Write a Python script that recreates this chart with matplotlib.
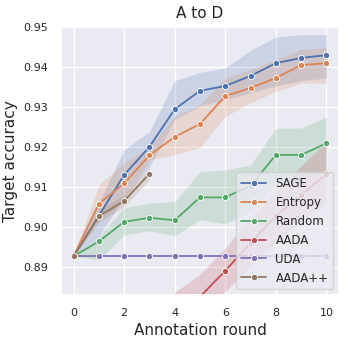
import numpy as np
import matplotlib
matplotlib.use("Agg")
import matplotlib.pyplot as plt
import seaborn as sns

sns.set_theme(style="darkgrid")

rounds = list(range(11))
methods = ["SAGE", "Entropy", "Random", "AADA", "UDA", "AADA++"]
colors = ["#4C72B0", "#DD8452", "#55A868", "#C44E52", "#8172B3", "#937860"]

# mean accuracy per round
sage_mean = [0.8927, 0.9028, 0.9130, 0.9200, 0.9294, 0.9340, 0.9352, 0.9377, 0.9409, 0.9422, 0.9429]
entropy_mean = [0.8927, 0.9058, 0.9109, 0.9179, 0.9225, 0.9257, 0.9327, 0.9347, 0.9372, 0.9404, 0.9409]
random_mean = [0.8927, 0.8964, 0.9013, 0.9023, 0.9017, 0.9074, 0.9074, 0.9103, 0.9180, 0.9180, 0.9209]
aada_mean = [0.790, 0.810, 0.830, 0.850, 0.872, 0.8826, 0.8891, 0.8960, 0.9028, 0.9080, 0.9132]
uda_mean = [0.8927] * 11
aadapp_mean = [0.8927, 0.9027, 0.9065, 0.9133]

# confidence band lower / upper
sage_lo = [0.8927, 0.8976, 0.9076, 0.9150, 0.9268, 0.9302, 0.9318, 0.9335, 0.9352, 0.9365, 0.9372]
sage_hi = [0.8927, 0.9060, 0.9193, 0.9238, 0.9365, 0.9386, 0.9397, 0.9441, 0.9474, 0.9480, 0.9480]
entropy_lo = [0.8927, 0.9018, 0.9060, 0.9168, 0.9180, 0.9199, 0.9276, 0.9310, 0.9338, 0.9359, 0.9359]
entropy_hi = [0.8927, 0.9105, 0.9160, 0.9200, 0.9276, 0.9305, 0.9372, 0.9393, 0.9418, 0.9443, 0.9448]
random_lo = [0.8927, 0.8918, 0.8980, 0.8991, 0.8978, 0.9018, 0.9008, 0.9040, 0.9110, 0.9120, 0.9140]
random_hi = [0.8927, 0.8976, 0.9048, 0.9060, 0.9063, 0.9138, 0.9142, 0.9155, 0.9247, 0.9247, 0.9274]
aada_lo = [0.770, 0.790, 0.810, 0.830, 0.860, 0.8760, 0.8836, 0.8900, 0.8960, 0.9010, 0.9060]
aada_hi = [0.810, 0.830, 0.850, 0.870, 0.8835, 0.8880, 0.8945, 0.9020, 0.9085, 0.9150, 0.9210]
aadapp_lo = [0.8927, 0.9012, 0.9050, 0.9118]
aadapp_hi = [0.8927, 0.9042, 0.9080, 0.9148]

means = [sage_mean, entropy_mean, random_mean, aada_mean, uda_mean, aadapp_mean]
lows = [sage_lo, entropy_lo, random_lo, aada_lo, None, aadapp_lo]
highs = [sage_hi, entropy_hi, random_hi, aada_hi, None, aadapp_hi]

fig = plt.figure(figsize=(3.46, 3.42), dpi=100)
ax = fig.add_axes([0.176, 0.137, 0.804, 0.785])

for name, c, m, lo, hi in zip(methods, colors, means, lows, highs):
    xs = rounds[:len(m)]
    if lo is not None:
        ax.fill_between(xs, lo, hi, color=c, alpha=0.2, linewidth=0)
    ax.plot(xs, m, color=c, marker="o", markersize=4.5, linewidth=1.3,
            markeredgecolor="white", markeredgewidth=0.6, label=name)

ax.set_xlim(-0.5, 10.5)
ax.set_ylim(0.883, 0.95)
ax.set_xticks([0, 2, 4, 6, 8, 10])
ax.set_yticks([0.89, 0.90, 0.91, 0.92, 0.93, 0.94, 0.95])
ax.tick_params(labelsize=8, pad=3)
ax.set_xlabel("Annotation round", fontsize=11)
ax.set_ylabel("Target accuracy", fontsize=11)
ax.set_title("A to D", fontsize=11)
ax.legend(loc="lower right", fontsize=8.5, handlelength=2.1)

fig.savefig("out.png", dpi=100)
